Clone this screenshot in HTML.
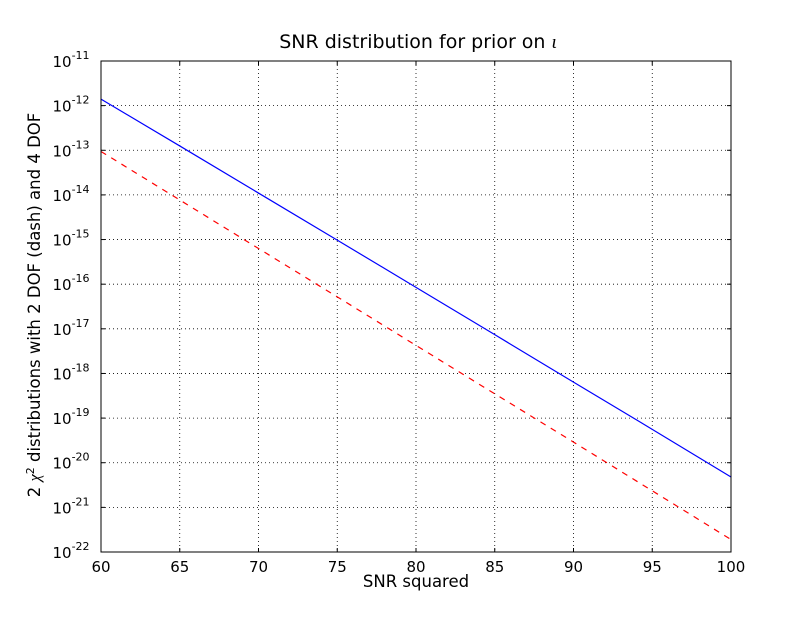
<!DOCTYPE html>
<html><head><meta charset="utf-8"><style>
body{margin:0;background:#fff;}
svg text{font-family:"DejaVu Sans","Liberation Sans",sans-serif;}
</style></head><body>
<svg id="chart" width="812" height="612" xmlns="http://www.w3.org/2000/svg">
<rect width="812" height="612" fill="#fff"/>
<g id="grid"></g>
<g id="series"></g>
<rect x="101" y="61" width="630" height="491" fill="none" stroke="#000" stroke-width="1"/>
<g id="ticks"></g>
<text x="418" y="48" text-anchor="middle" font-size="19">SNR distribution for prior on <tspan font-family="Liberation Serif,serif" font-style="italic">ι</tspan></text>
<text x="416" y="587" text-anchor="middle" font-size="16.5">SNR squared</text>
<text transform="translate(40,305) rotate(-90)" text-anchor="middle" font-size="16.5">2 <tspan font-family="Liberation Serif,serif" font-style="italic">χ</tspan><tspan dy="-6" font-size="11">2</tspan><tspan dy="6"> distributions with 2 DOF (dash) and 4 DOF</tspan></text>
</svg>
<script>
const xTicks=[60,65,70,75,80,85,90,95,100];
const yExps=[-11,-12,-13,-14,-15,-16,-17,-18,-19,-20,-21,-22];
const snr=[60,65,70,75,80,85,90,95,100];
const dof4=[1.4e-12,1.25e-13,1.1e-14,9.7e-16,8.5e-17,7.4e-18,6.4e-19,5.6e-20,4.8e-21];
const dof2=[9.4e-14,7.7e-15,6.3e-16,5.2e-17,4.25e-18,3.5e-19,2.9e-20,2.35e-21,1.9e-22];
const L=101,R=731,T=61,B=552;
const xs=v=>L+(v-60)/40*(R-L);
const ys=v=>T+(-11-Math.log10(v))/11*(B-T);
const NS="http://www.w3.org/2000/svg";
function mk(t,a,p){const e=document.createElementNS(NS,t);for(const k in a)e.setAttribute(k,a[k]);p.appendChild(e);return e;}
const g=document.getElementById('grid'),tk=document.getElementById('ticks'),s=document.getElementById('series');
xTicks.forEach(v=>{const x=xs(v);
 const l=mk('line',{x1:x,x2:x,y1:T,y2:B,stroke:'#000','stroke-dasharray':'1,3','stroke-width':0.8},g);
 
 mk('line',{x1:x,x2:x,y1:B,y2:B-4,stroke:'#000'},tk);mk('line',{x1:x,x2:x,y1:T,y2:T+4,stroke:'#000'},tk);
 const t=mk('text',{x:x,y:B+20,'text-anchor':'middle','font-size':15},tk);t.textContent=v;
 });
yExps.forEach(e=>{const y=ys(Math.pow(10,e));
 const l=mk('line',{x1:L,x2:R,y1:y,y2:y,stroke:'#000','stroke-dasharray':'1,3','stroke-width':0.8},g);
 
 mk('line',{x1:L,x2:L+4,y1:y,y2:y,stroke:'#000'},tk);mk('line',{x1:R,x2:R-4,y1:y,y2:y,stroke:'#000'},tk);
 const t=mk('text',{x:L-30,y:y+6,'text-anchor':'middle','font-size':15},tk);
 
 t.innerHTML='10<tspan dy="-8" font-size="11">'+e+'</tspan>';});
function line(d,color,dash,name){const p=mk('polyline',{points:snr.map((x,i)=>xs(x)+','+ys(d[i])).join(' '),fill:'none',stroke:color,'stroke-width':1.2},s);
 if(dash)p.setAttribute('stroke-dasharray',dash);
 }
line(dof4,'#0000ff',null,'line-4-dof');
line(dof2,'#ff0000','6,6','line-2-dof');
</script>
</body></html>
